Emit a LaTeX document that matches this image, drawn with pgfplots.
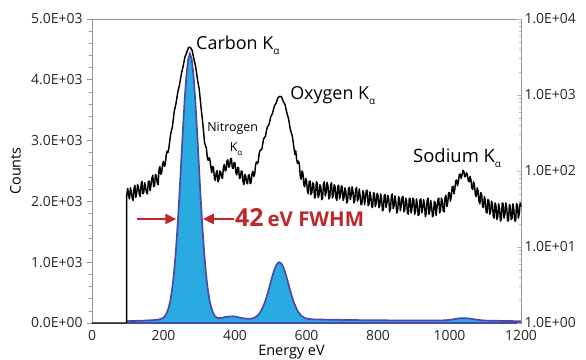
\documentclass[border=0pt]{standalone}
\usepackage{fontspec}
\setmainfont{Open Sans}
\usepackage{pgfplots}
\pgfplotsset{compat=1.18}
\usetikzlibrary{arrows.meta}
\definecolor{fillc}{RGB}{41,171,226}
\definecolor{linec}{RGB}{78,72,168}
\definecolor{redc}{RGB}{192,39,45}
\definecolor{axc}{RGB}{150,150,150}
\newcommand{\ka}[1]{K\raisebox{-0.55ex}{\fontsize{#1}{#1}\selectfont α}}
\begin{document}
\begin{tikzpicture}
\useasboundingbox (-92bp,-37bp) rectangle (494bp,323bp);
\begin{axis}[at={(0,0)}, anchor=south west,
  width=429bp, height=304bp, scale only axis,
  xmin=0, xmax=1200, ymin=0, ymax=5000, clip=false,
  axis line style={axc, line width=0.8bp},
  xtick={0,200,...,1200}, xticklabels={0,200,400,600,800,1000,1200},
  ytick={0,1000,...,5000},
  yticklabels={0.0E+00,1.0E+03,2.0E+03,3.0E+03,4.0E+03,5.0E+03},
  minor y tick num=4,
  xtick pos=bottom, ytick pos=left, tick align=outside,
  major x tick style={draw=none},
  y tick style={axc, line width=0.6bp},
  major tick length=5bp, minor tick length=3bp,
  tick label style={font=\fontsize{14}{16}\selectfont, text=black!85},
  yticklabel style={xshift=-1bp},
  xticklabel style={yshift=1bp},
  /pgf/number format/assume math mode=true,
  xlabel={Energy eV}, ylabel={Counts},
  label style={font=\fontsize{14.5}{16}\selectfont},
  xlabel style={at={(axis description cs:0.465,-0.108)}, anchor=base},
  ylabel style={at={(axis description cs:-0.158,0.5)}, anchor=south, rotate=0},
]
\addplot[draw=linec, line width=1.7bp, fill=fillc] table {
100 0
100 30
110 34
120 33
130 38
140 36
150 41
160 44
170 47
180 52
188 60
194 68
199 85
204 111
209 165
214 243
219 365
224 549
229 803
234 1141
239 1561
244 2056
249 2595
254 3147
259 3655
264 4066
269 4338
274 4430
279 4338
284 4066
289 3655
294 3147
299 2595
304 2056
309 1561
314 1141
319 803
324 549
329 365
334 243
339 165
344 111
349 90
354 80
364 85
374 100
384 108
394 110
404 102
414 88
424 76
434 70
444 68
454 85
464 126
474 208
484 348
489 440
494 543
499 652
504 760
509 856
514 933
519 983
524 1000
529 983
534 933
539 856
544 760
549 652
554 543
559 440
564 348
574 208
584 126
594 85
604 68
620 60
640 57
660 55
680 53
700 51
720 50
740 48
760 47
780 46
800 45
820 44
840 43
860 42
880 41
900 40
920 40
940 40
960 41
980 43
990 46
1000 52
1010 60
1020 70
1030 78
1040 80
1050 77
1060 70
1070 60
1080 52
1090 45
1100 40
1120 37
1140 35
1160 33
1180 31
1200 29
} \closedcycle;
\draw[-{Triangle[length=11bp,width=10bp]}, redc, line width=2.6bp] (axis cs:126,1711) -- (axis cs:236,1711);
\draw[-{Triangle[length=11bp,width=10bp]}, redc, line width=2.6bp] (axis cs:396,1711) -- (axis cs:310,1711);
\node[anchor=base west, inner sep=0pt, text=redc, font=\bfseries] at (axis cs:400,1579)
  {{\fontsize{25}{27}\selectfont 42}\hspace{4bp}{\fontsize{20.5}{22}\selectfont eV FWHM}};
\node[anchor=base west, inner sep=0pt, font=\fontsize{18}{20}\selectfont] at (axis cs:291,4502) {Carbon \ka{10}};
\node[anchor=base west, inner sep=0pt, font=\fontsize{18}{20}\selectfont] at (axis cs:554,3684) {Oxygen \ka{10}};
\node[anchor=base west, inner sep=0pt, font=\fontsize{18.5}{20}\selectfont] at (axis cs:898,2648) {Sodium \ka{10}};
\node[anchor=base west, inner sep=0pt, font=\fontsize{12.5}{14}\selectfont] at (axis cs:322,3146) {Nitrogen};
\node[anchor=base, inner sep=0pt, font=\fontsize{12.5}{14}\selectfont] at (axis cs:403,2817) {\ka{8}};
\end{axis}
\begin{axis}[at={(0,0)}, anchor=south west,
  width=429bp, height=304bp, scale only axis,
  xmin=0, xmax=1200, ymode=log, ymin=1, ymax=10000, clip=false,
  axis x line=none, axis y line*=right,
  axis line style={axc, line width=0.8bp},
  ytick={1,10,100,1000,10000},
  yticklabels={1.0E+00,1.0E+01,1.0E+02,1.0E+03,1.0E+04},
  ytick pos=right, tick align=inside,
  y tick style={axc!70, line width=0.5bp},
  major tick length=4bp, minor tick length=2.5bp,
  tick label style={font=\fontsize{14}{16}\selectfont, text=black!85},
  yticklabel style={xshift=0bp},
]
\addplot[black, line width=1.45bp, line join=round] table {
0 1
97 1
97 48
100 59
102.5 47
105 43
107.5 60
110 54
112.5 44
115 41
117.5 58
120 65
122.5 45
125 51
127.5 66
130 61
132.5 49
135 46
137.5 68
140 73
142.5 50
145 53
147.5 70
150 61
152.5 52
155 50
157.5 72
160 74
162.5 55
165 65
167.5 80
170 88
172.5 62
175 64
177.5 90
180 86
182.5 70
185 66
187.5 105
190 114
192.5 90
195 95
197.5 125
200 134
202.5 115
205 122
207.5 160
210 182
212.5 175
215 200
220 307
225 384
230 603
235 776
240 1092
245 1372
250 1906
255 2401
260 3162
265 3626
270 4233
275 4237
280 3876
285 2989
290 2346
295 1600
300 1185
305 691
310 420
315 233
320 200
322.5 150
325 138
327.5 150
330 140
332.5 112
335 95
337.5 115
340 109
342.5 80
345 75
347.5 95
350 101
352.5 72
355 77
357.5 100
360 97
362.5 82
365 80
367.5 110
370 122
372.5 100
375 103
377.5 135
380 140
382.5 112
385 117
387.5 145
390 146
392.5 110
395 108
397.5 130
400 127
402.5 95
405 89
407.5 112
410 110
412.5 80
415 81
417.5 100
420 99
422.5 72
425 66
427.5 90
430 86
432.5 70
435 68
437.5 88
440 89
442.5 68
445 71
447.5 92
450 99
452.5 85
455 90
457.5 120
460 132
462.5 125
465 133
467.5 170
470 186
475 193
480 265
485 285
490 374
495 407
500 515
505 578
510 714
515 784
520 918
525 960
530 949
535 823
540 745
545 582
550 484
555 346
560 294
565 200
567.5 165
570 184
572.5 140
575 126
577.5 135
580 123
582.5 85
585 78
587.5 100
590 94
592.5 66
595 62
597.5 80
600 75
602.5 55
605 50
607.5 72
610 74
612.5 49
615 52
617.5 70
620 67
622.5 44
625 46
627.5 72
630 70
632.5 45
635 48
637.5 66
640 62
642.5 42
645 44
647.5 68
650 72
652.5 47
655 52
657.5 71
660 64
662.5 43
665 45
667.5 66
670 70
672.5 44
675 48
677.5 66
680 62
682.5 44
685 41
687.5 63
690 65
692.5 43
695 48
697.5 64
700 61
702.5 41
705 45
707.5 60
710 54
712.5 38
715 40
717.5 59
720 61
722.5 42
725 48
727.5 62
730 54
732.5 38
735 41
737.5 57
740 61
742.5 40
745 43
747.5 58
750 47
752.5 36
755 37
757.5 55
760 52
762.5 36
765 44
767.5 56
770 55
772.5 35
775 37
777.5 53
780 46
782.5 34
785 33
787.5 52
790 50
792.5 34
795 38
797.5 51
800 48
802.5 33
805 35
807.5 50
810 43
812.5 30
815 31
817.5 48
820 49
822.5 33
825 38
827.5 48
830 43
832.5 29
835 32
837.5 47
840 50
842.5 32
845 35
847.5 47
850 39
852.5 28
855 30
857.5 46
860 44
862.5 30
865 36
867.5 45
870 46
872.5 29
875 31
877.5 44
880 40
882.5 28
885 27
887.5 44
890 43
892.5 28
895 32
897.5 44
900 42
902.5 27
905 30
907.5 43
910 37
912.5 26
915 27
917.5 42
920 43
922.5 28
925 32
927.5 42
930 37
932.5 25
935 28
937.5 41
940 44
942.5 27
945 30
947.5 41
950 34
952.5 25
955 26
957.5 40
960 38
962.5 26
965 33
967.5 42
970 44
972.5 28
975 31
977.5 44
980 40
982.5 30
985 29
987.5 45
990 48
992.5 34
995 38
997.5 52
1000 52
1002.5 40
1005 46
1007.5 62
1010 63
1012.5 50
1015 58
1017.5 75
1020 76
1022.5 64
1025 73
1027.5 90
1030 91
1032.5 80
1035 88
1037.5 102
1040 99
1042.5 84
1045 85
1047.5 95
1050 89
1052.5 75
1055 72
1057.5 85
1060 76
1062.5 60
1065 57
1067.5 72
1070 64
1072.5 48
1075 46
1077.5 60
1080 55
1082.5 40
1085 37
1087.5 52
1090 49
1092.5 34
1095 33
1097.5 46
1100 41
1102.5 29
1105 28
1107.5 42
1110 41
1112.5 27
1115 29
1117.5 40
1120 37
1122.5 25
1125 24
1127.5 38
1130 35
1132.5 23
1135 25
1137.5 37
1140 32
1142.5 22
1145 23
1147.5 38
1150 37
1152.5 24
1155 27
1157.5 38
1160 33
1162.5 22
1165 22
1167.5 36
1170 35
1172.5 23
1175 24
1177.5 37
1180 31
1182.5 22
1185 22
1187.5 37
1190 36
1192.5 24
1195 27
1197.5 38
1200 34
};
\end{axis}
\end{tikzpicture}
\end{document}
